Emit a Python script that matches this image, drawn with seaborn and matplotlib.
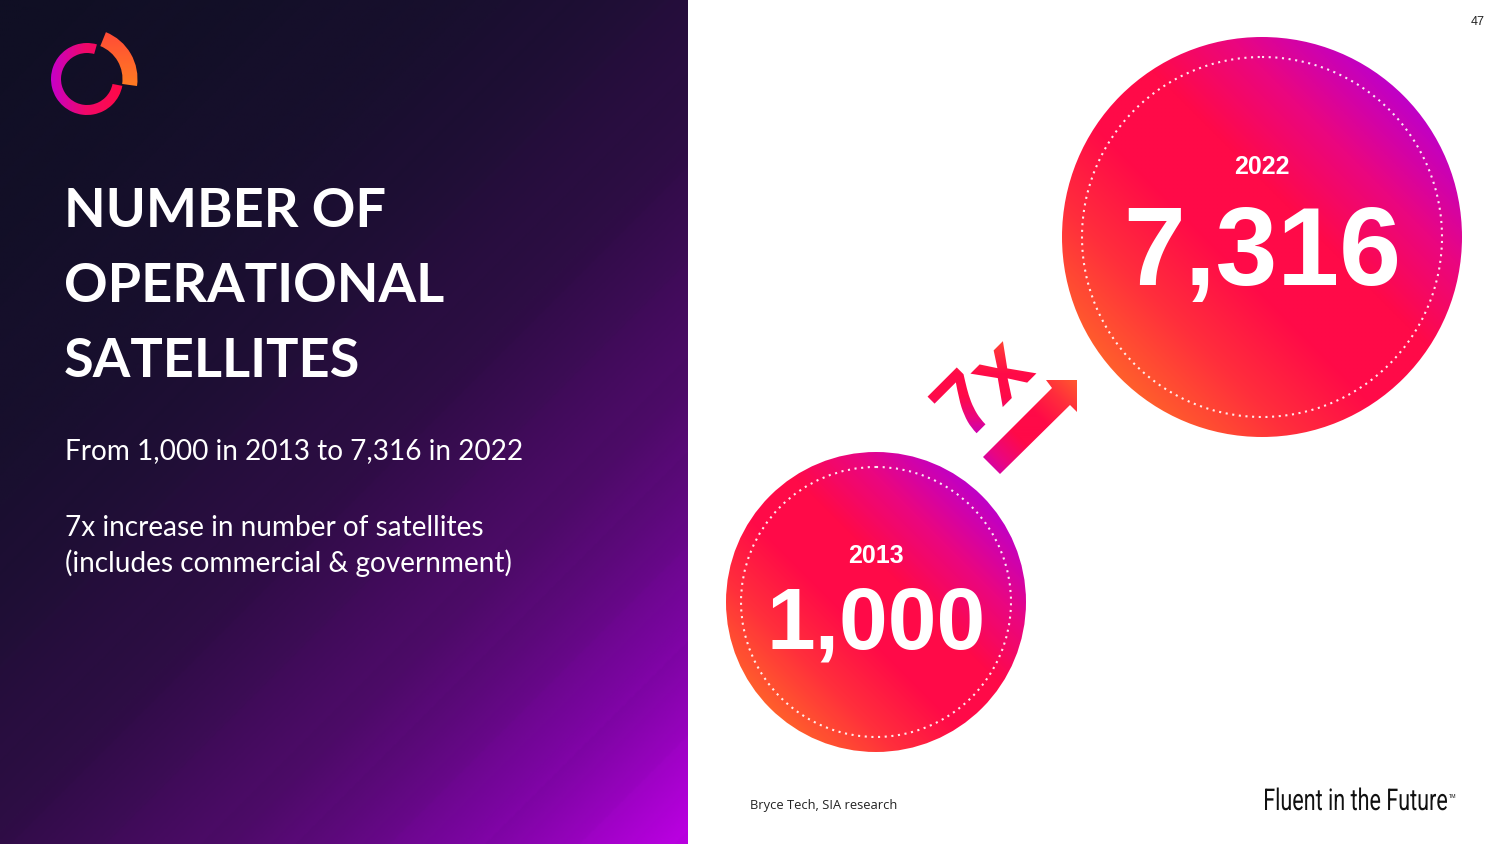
import numpy as np
import matplotlib
matplotlib.use("Agg")
import matplotlib.pyplot as plt
import seaborn as sns
from matplotlib.patches import Circle, Wedge, Polygon, PathPatch
from matplotlib.textpath import TextPath
from matplotlib.font_manager import FontProperties
from matplotlib.transforms import Affine2D

# data
years = [2013, 2022]
counts = [1000, 7316]
growth_label = "7x"
title_lines = ["NUMBER OF", "OPERATIONAL", "SATELLITES"]
body_lines = ["From 1,000 in 2013 to 7,316 in 2022", "",
              "7x increase in number of satellites",
              "(includes commercial & government)"]
source = "Bryce Tech, SIA research"
tagline = "Fluent in the Future"
page_no = "47"

sns.set_theme(style="white")
plt.rcParams["font.family"] = ["Lato", "DejaVu Sans"]

W, H = 1500, 844
fig = plt.figure(figsize=(15, 8.44), dpi=100)
ax = fig.add_axes([0, 0, 1, 1])
ax.set_xlim(0, W)
ax.set_ylim(H, 0)
ax.axis("off")

bg_cmap = sns.blend_palette(["#100f24", "#1a0f30", "#2e0d45", "#4d0b68",
                             "#7a05a0", "#b900e0"], as_cmap=True)
warm_cmap = sns.blend_palette(["#ff5e2c", "#ff2e3c", "#ff0a48", "#ff0a48",
                               "#ea0680", "#c000c6"], as_cmap=True)
ring_cmap = sns.blend_palette(["#c400cc", "#f0086a", "#ff0a48"], as_cmap=True)
orange_cmap = sns.blend_palette(["#ff7a22", "#ff4a38"], as_cmap=True)


def grad_fill(x0, x1, y0, y1, func, cmap, clip=None, n=300):
    xs = np.linspace(x0, x1, n)
    ys = np.linspace(y0, y1, n)
    X, Y = np.meshgrid(xs, ys)
    im = ax.imshow(func(X, Y), extent=(x0, x1, y1, y0), origin="upper",
                   cmap=cmap, vmin=0, vmax=1, aspect="auto",
                   interpolation="bilinear", zorder=1)
    if clip is not None:
        ax.add_patch(clip)
        clip.set_visible(False)
        im.set_clip_path(clip)
    return im


# left panel: diagonal gradient with soft bands
def panel(X, Y):
    t = (X + Y) / (688 + 844)
    t = np.clip(t, 0, 1) ** 1.5
    bands = 0.012 * np.floor(((X + Y) / 95.0)) % 0.024
    return np.clip(t + bands, 0, 1)


grad_fill(0, 688, 0, H, panel, bg_cmap, n=500)

# logo
lc = (87, 79)
ring = Wedge(lc, 36, -349, -74, width=10, transform=ax.transData)
grad_fill(45, 130, 35, 125, lambda X, Y: np.clip((X - 50) / 70, 0, 1),
          ring_cmap, clip=ring)
arc = Wedge(lc, 50.5, -68, 8, width=15, transform=ax.transData)
grad_fill(85, 140, 25, 95, lambda X, Y: np.clip((Y - 30) / 55, 0, 1),
          orange_cmap.reversed(), clip=arc)

# titles
for i, line in enumerate(title_lines):
    ax.text(64, 227 + i * 75, line, color="white", fontsize=39,
            fontweight="bold", va="baseline", ha="left")
body_y = [459, 497, 536, 572]
for y, line in zip(body_y, body_lines):
    if line:
        ax.text(65, y, line, color="white", fontsize=20.2,
                va="baseline", ha="left")

# bubbles
centres = [(876, 602), (1262, 237)]
radii = [150, 200]
year_dy = [-39, -63]
num_dy = [46, 48]
num_size = [63, 80]
for yr, cnt, (cx, cy), r, ydy, ndy, ns in zip(years, counts, centres, radii,
                                               year_dy, num_dy, num_size):
    circ = Circle((cx, cy), r, transform=ax.transData)
    grad_fill(cx - r, cx + r, cy - r, cy + r,
              lambda X, Y, cx=cx, cy=cy, r=r:
              np.clip(((X - cx) - (Y - cy)) / (2.83 * r) + 0.5, 0, 1),
              warm_cmap, clip=circ)
    ax.add_patch(Circle((cx, cy), r * 0.9, fill=False, ec="white",
                        lw=1.5, ls=(0, (1, 2.2)), alpha=0.9, zorder=3))
    ax.text(cx, cy + ydy, str(yr), color="white", fontsize=18,
            fontweight="bold", ha="center", va="baseline",
            family="Liberation Sans", zorder=4)
    ax.text(cx, cy + ndy, f"{cnt:,}", color="white", fontsize=ns,
            fontweight="bold", ha="center", va="baseline",
            family="Liberation Sans", zorder=4)

# growth arrow
arrow = Polygon([(983, 457), (1052, 388), (1046, 380), (1077, 380),
                 (1077, 412), (1070, 405), (1000, 474)], closed=True,
                transform=ax.transData)
grad_fill(980, 1080, 375, 478,
          lambda X, Y: np.clip(((X - 980) - (Y - 478)) / 200, 0, 1),
          warm_cmap.reversed(), clip=arrow)

# rotated "7x" label with gradient
tp = TextPath((0, 0), growth_label, size=88,
              prop=FontProperties(family="Liberation Sans", weight="bold"))
bb = tp.get_extents()
tr = (Affine2D().translate(-(bb.x0 + bb.x1) / 2, -(bb.y0 + bb.y1) / 2)
      .scale(1, -1).rotate_deg(-45).translate(982, 385))
tpatch = PathPatch(tr.transform_path(tp), transform=ax.transData)
grad_fill(900, 1060, 320, 450,
          lambda X, Y: np.clip(1 - (Y - 330) / 110, 0, 1),
          warm_cmap.reversed(), clip=tpatch)

# footer
ax.text(750, 806, source, color="#222222", fontsize=9.3, family="Open Sans",
        va="center", ha="left")
# condensed tagline: squeeze a regular font horizontally
tg = TextPath((0, 0), tagline, size=30, prop=FontProperties(family="Roboto"))
tb = tg.get_extents()
sx = 182 / tb.width
ttr = Affine2D().translate(-tb.x0, 0).scale(sx, -1).translate(1265, 810)
ax.add_patch(PathPatch(ttr.transform_path(tg), fc="#111111", ec="none",
                       transform=ax.transData, zorder=4))
ax.text(1449, 797, "TM", color="#111111", fontsize=3.8,
        family="Liberation Sans", va="center", ha="left")
ax.text(1478, 22, page_no, color="#222222", fontsize=9,
        family="Liberation Sans", va="center", ha="center")

ax.set_xlim(0, W)
ax.set_ylim(H, 0)
fig.savefig("out.png", dpi=100)
